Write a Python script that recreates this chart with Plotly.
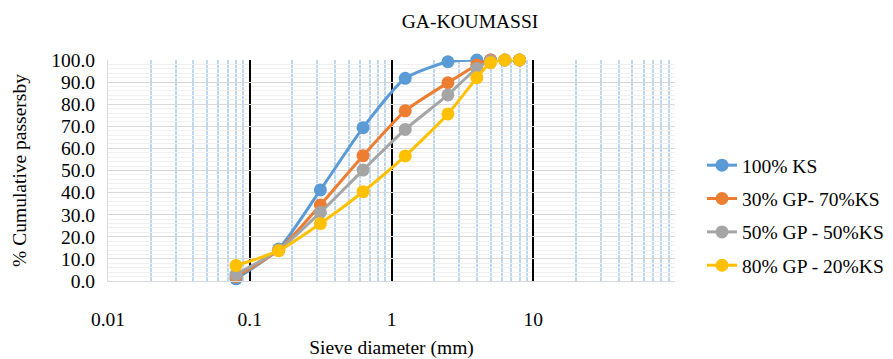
import plotly.graph_objects as go

sieve = [0.08, 0.16, 0.315, 0.63, 1.25, 2.5, 4, 5, 6.3, 8]
ks100 = [1.0, 14.5, 41.2, 69.4, 91.7, 99.2, 100, 100, 100, 100]
gp30 = [2.0, 14.0, 34.4, 56.7, 77.0, 89.7, 97.7, 100, 100, 100]
gp50 = [3.0, 14.0, 31.0, 50.2, 68.6, 84.2, 96.2, 99.5, 100, 100]
gp80 = [7.0, 13.7, 26.0, 40.4, 56.6, 75.6, 92.0, 98.8, 100, 100]

names = ["100% KS", "30% GP- 70%KS", "50% GP - 50%KS", "80% GP - 20%KS"]
colors = ["#5B9BD5", "#ED7D31", "#A5A5A5", "#FFC000"]
series = [ks100, gp30, gp50, gp80]

xticks = [0.01, 0.1, 1, 10]
xtick_text = ["0.01", "0.1", "1", "10"]
minor_x = [m * d for d in [0.01, 0.1, 1, 10] for m in range(2, 10)]

font = "Liberation Serif"
fs = 19.5

fig = go.Figure()
for i, (n, c, s) in enumerate(zip(names, colors, series)):
    fig.add_trace(go.Scatter(
        x=sieve, y=s, name=n, mode="lines+markers",
        line=dict(color=c, width=3, shape="spline", smoothing=0.6),
        marker=dict(color=c, size=13),
        legendgroup=f"g{i}", cliponaxis=False,
    ))

fig.update_layout(
    width=893, height=359,
    margin=dict(l=108, r=218, t=60, b=78),
    paper_bgcolor="white", plot_bgcolor="white",
    font=dict(family=font, size=fs, color="#000000"),
    title=dict(text="GA-KOUMASSI", x=470/893, xanchor="center", y=1-21/359, yanchor="middle",
               font=dict(family=font, size=fs)),
    legend=dict(xref="container", yref="container", x=702/893, y=1-146/359,
                xanchor="left", yanchor="top", font=dict(family=font, size=fs),
                tracegroupgap=5, bgcolor="rgba(0,0,0,0)"),
    showlegend=True,
)

fig.update_xaxes(
    type="log", range=[-2, 2], automargin=False,
    tickmode="array", tickvals=xticks, ticktext=xtick_text,
    showgrid=True, gridcolor="#000000", gridwidth=1.5,
    minor=dict(tickmode="array", tickvals=minor_x, showgrid=True, gridcolor="#BDD7EE", gridwidth=1.5),
    showline=True, linecolor="#D9D9D9", linewidth=1,
    ticks="", ticklabelstandoff=21,
    title=dict(text="Sieve diameter (mm)", standoff=19, font=dict(family=font, size=fs)),
    zeroline=False,
)
fig.update_yaxes(
    range=[0, 100], dtick=10, tickformat=".1f", automargin=False,
    showgrid=True, gridcolor="#D9D9D9", gridwidth=1,
    minor=dict(dtick=2, showgrid=True, gridcolor="#F0F0F0", gridwidth=1),
    showline=True, linecolor="#D9D9D9", linewidth=1,
    ticks="", ticklabelstandoff=8,
    title=dict(text="% Cumulative passersby", standoff=19, font=dict(family=font, size=fs)),
    zeroline=False,
)

fig.write_html("out.html")
